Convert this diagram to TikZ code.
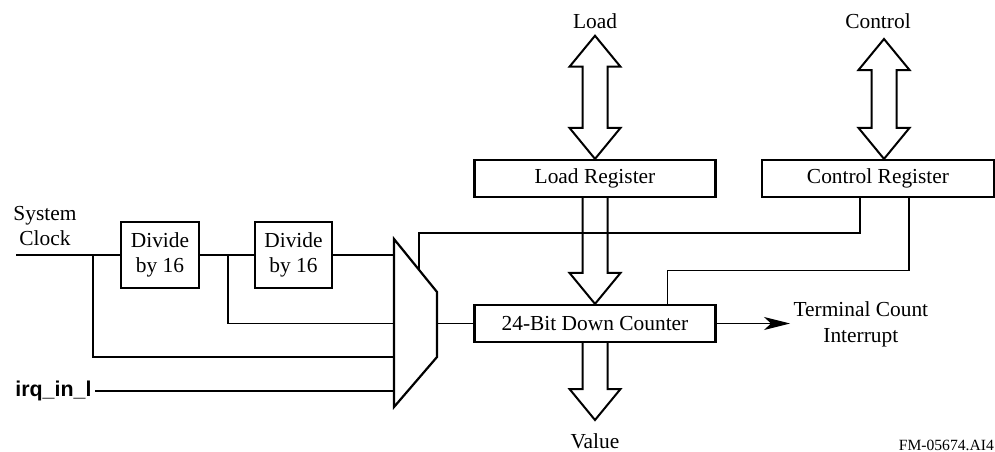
\documentclass[tikz,border=0pt]{standalone}
\usepackage{fontspec}
\setmainfont{Liberation Serif}
\newfontfamily\irqfont{Liberation Sans}
\usetikzlibrary{calc, arrows.meta}

\tikzset{
  reg/.style={draw, line width=2.2pt, inner sep=0pt, align=center},
  wire/.style={line width=1.2pt},
  bus/.style={line width=2pt, line join=miter},
  lbl/.style={align=center, inner sep=0pt}
}

% wide bus arrows: tail/tip and tip/tip
\newcommand{\busdown}[2]{%
  \draw[bus] ($(#1)+(-12.5,0)$) -- ($(#2)+(-12.5,-31)$) -- ($(#2)+(-25.5,-31)$) -- (#2)
    -- ($(#2)+(25.5,-31)$) -- ($(#2)+(12.5,-31)$) -- ($(#1)+(12.5,0)$);}
\newcommand{\busboth}[2]{%
  \draw[bus] (#1) -- ($(#1)+(25.5,31)$) -- ($(#1)+(12.5,31)$) -- ($(#2)+(12.5,-31)$)
    -- ($(#2)+(25.5,-31)$) -- (#2) -- ($(#2)+(-25.5,-31)$) -- ($(#2)+(-12.5,-31)$)
    -- ($(#1)+(-12.5,31)$) -- ($(#1)+(-25.5,31)$) -- cycle;}

\begin{document}
\begin{tikzpicture}[x=1pt, y=-1pt, font=\fontsize{21.4}{25.5}\selectfont]
  \useasboundingbox (0,0) rectangle (995,452);

  % registers, counter, dividers
  \node[reg, minimum width=241pt, minimum height=37pt] (lreg) at (595,178.5) {Load Register};
  \node[reg, minimum width=232pt, minimum height=37pt] (creg) at (878,178.5) {Control Register};
  \node[reg, minimum width=241pt, minimum height=37pt] (ctr) at (595,323.5) {24-Bit Down Counter};
  \node[reg, minimum width=78pt, minimum height=66pt] (div1) at (160,255) {Divide\\by 16};
  \node[reg, minimum width=77pt, minimum height=66pt] (div2) at (293.5,255) {Divide\\by 16};

  % labels
  \node[anchor=base] (load) at (595,29) {Load};
  \node[anchor=base] (ctl) at (878,29) {Control};
  \node[anchor=base] (val) at (595,448.5) {Value};
  \node[lbl] (sysclk) at (45,226) {System\\Clock};
  \node[anchor=east] (irq) at (95,391) {\irqfont\bfseries irq\_in\_l};
  \node[align=center, anchor=west] (tc) at (790,324.5) {Terminal Count\\Interrupt};
  \node[anchor=base east, inner sep=0pt, font=\fontsize{15.6}{18}\selectfont] (fm) at (994,450) {FM-05674.AI4};

  % mux
  \coordinate (muxtl) at (394,239);
  \coordinate (muxtr) at (437,292);
  \coordinate (muxbr) at (437,357);
  \coordinate (muxbl) at (394,407);
  \draw[line width=2.2pt, line join=miter] (muxtl) -- (muxtr) -- (muxbr) -- (muxbl) -- cycle;
  \coordinate (mout) at (437,323.5);
  \coordinate (msel) at ($(muxtl)!0.58!(muxtr)$);

  % clock wires
  \coordinate (clk) at (16,255);
  \coordinate (tap1) at (93,255);
  \coordinate (tap2) at (228,255);
  \draw[wire] (clk) -- (div1.west);
  \draw[wire] (div1.east) -- (div2.west);
  \draw[wire] (div2.east) -- (div2.east -| muxtl);
  \draw[wire] (tap2) |- (muxtl |- mout);
  \draw[wire] (tap1) |- (muxtl |- muxbr);
  \draw[wire] (irq.east) -- (irq.east -| muxtl);
  \draw[wire] (mout) -- (ctr.west);

  % control wires
  \draw[wire] (msel) -- ++(0,-36.8) -| ([xshift=-18pt]creg.south);
  \draw[wire] ([xshift=31pt]creg.south) -- ++(0,72) -| ([xshift=72.5pt]ctr.north);
  \draw[wire, -{Stealth[length=26pt, width=13pt, inset=7pt]}] (ctr.east) -- (ctr.east -| tc.west);

  % buses
  \coordinate (ltip) at ([yshift=-3pt]load.south);
  \busboth{ltip}{lreg.north}
  \coordinate (ctip) at (884,39);
  \coordinate (cbot) at (creg.north -| ctip);
  \busboth{ctip}{cbot}
  \busdown{lreg.south}{ctr.north}
  \coordinate (vtip) at (595,420);
  \busdown{ctr.south}{vtip}
\end{tikzpicture}
\end{document}
